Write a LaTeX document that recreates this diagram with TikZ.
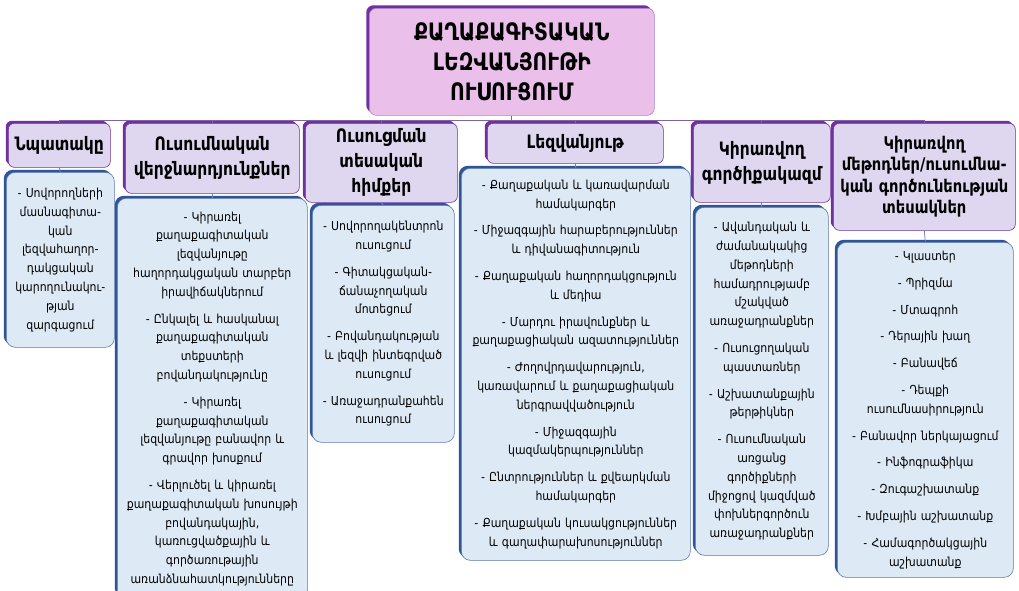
\documentclass[tikz,border=0pt]{standalone}
\usepackage{fontspec}
\setmainfont{DejaVu Sans}[FakeStretch=0.88]
\newfontfamily\headfont{DejaVu Sans}[FakeStretch=0.84]
\usetikzlibrary{shadows}
\definecolor{titlefill}{HTML}{EAC0EA}
\definecolor{hdrfill}{HTML}{DFD7EF}
\definecolor{hdrline}{HTML}{7030A0}
\definecolor{bodyfill}{HTML}{DDEAF6}
\definecolor{bodyline}{HTML}{2F5597}
\definecolor{busline}{HTML}{8064A2}
\tikzset{
    titlebox/.style={draw=hdrline!60, line width=0.6pt, fill=titlefill, rounded corners=7pt, anchor=north west, align=center, inner sep=0pt,
        font=\headfont\fontsize{24}{30}\selectfont\bfseries,
        drop shadow={shadow xshift=-3pt, shadow yshift=3pt, fill=hdrline, opacity=1}},
    hdrbox/.style={draw=hdrline, line width=0.6pt, fill=hdrfill, rounded corners=6pt, anchor=north west, align=center, inner sep=0pt,
        font=\headfont\fontsize{18.5}{25}\selectfont\bfseries,
        drop shadow={shadow xshift=-2.5pt, shadow yshift=2.5pt, fill=hdrline, opacity=1}},
    bodybox/.style={draw=bodyline!80, line width=0.6pt, fill=bodyfill, rounded corners=9pt, anchor=north west, align=center, inner sep=0pt,
        font=\fontsize{12.4}{18.8}\selectfont,
        drop shadow={shadow xshift=-2.5pt, shadow yshift=2.5pt, fill=bodyline, opacity=1}},
    busline/.style={draw=busline, line width=0.8pt},
    linkline/.style={draw=bodyline!70, line width=0.8pt}
}
\begin{document}
\begin{tikzpicture}[x=1pt,y=-1pt]
            \fill[white] (0,0) rectangle (1019,590);
            \useasboundingbox (0,0) rectangle (1019,590);

            \node[titlebox, minimum width=285, minimum height=107, text width=277] (title) at (369,8)
                {ՔԱՂԱՔԱԳԻՏԱԿԱՆ\\ԼԵԶՎԱՆՅՈՒԹԻ\\ՈՒՍՈՒՑՈՒՄ};

            \node[hdrbox, minimum width=102, minimum height=44, text width=98] (h1) at (8,123) {Նպատակը};
            \node[hdrbox, minimum width=174, minimum height=70, text width=170] (h2) at (125,123) {Ուսումնական\\վերջնարդյունքներ};
            \node[hdrbox, minimum width=152, minimum height=79, text width=148] (h3) at (305,123) {Ուսուցման\\տեսական\\հիմքեր};
            \node[hdrbox, minimum width=176, minimum height=40, text width=172] (h4) at (487,123) {Լեզվանյութ};
            \node[hdrbox, minimum width=137, minimum height=79, text width=133] (h5) at (693,123) {Կիրառվող\\գործիքակազմ};
            \node[hdrbox, minimum width=182, minimum height=107, text width=178, font=\headfont\fontsize{17.5}{21.5}\selectfont\bfseries] (h6) at (833,123)
                {Կիրառվող\\մեթոդներ/ուսումնա-\\կան գործունեության\\տեսակներ};

            \node[bodybox, minimum width=108, minimum height=175, text width=104] (b1) at (6,172)
                {- Սովորողների\\մասնագիտա-\\կան\\լեզվահաղոր-\\դակցական\\կարողունակու-\\թյան\\զարգացում};
            \node[bodybox, minimum width=190, minimum height=401, text width=186] (b2) at (117,198)
                {- Կիրառել\\քաղաքագիտական\\լեզվանյութը\\հաղորդակցական տարբեր\\իրավիճակներում\\[8pt]
                 - Ընկալել և հասկանալ\\քաղաքագիտական\\տեքստերի\\բովանդակությունը\\[8pt]
                 - Կիրառել\\քաղաքագիտական\\լեզվանյութը բանավոր և\\գրավոր խոսքում\\[8pt]
                 - Վերլուծել և կիրառել\\քաղաքագիտական խոսույթի\\բովանդակային,\\կառուցվածքային և\\գործառութային\\առանձնահատկությունները};
            \node[bodybox, minimum width=142, minimum height=237, text width=138] (b3) at (312,205)
                {- Սովորողակենտրոն\\ուսուցում\\[8pt]
                 - Գիտակցական-\\ճանաչողական\\մոտեցում\\[8pt]
                 - Բովանդակության\\և լեզվի ինտեգրված\\ուսուցում\\[8pt]
                 - Առաջադրանքահեն\\ուսուցում};
            \node[bodybox, minimum width=229, minimum height=392, text width=225] (b4) at (461,168)
                {- Քաղաքական և կառավարման\\համակարգեր\\[8pt]
                 - Միջազգային հարաբերություններ\\և դիվանագիտություն\\[8pt]
                 - Քաղաքական հաղորդակցություն\\և մեդիա\\[8pt]
                 - Մարդու իրավունքներ և\\քաղաքացիական ազատություններ\\[8pt]
                 - Ժողովրդավարություն,\\կառավարում և քաղաքացիական\\ներգրավվածություն\\[8pt]
                 - Միջազգային\\կազմակերպություններ\\[8pt]
                 - Ընտրություններ և քվեարկման\\համակարգեր\\[8pt]
                 - Քաղաքական կուսակցություններ\\և գաղափարախոսություններ};
            \node[bodybox, minimum width=133, minimum height=348, text width=129] (b5) at (695,207)
                {- Ավանդական և\\ժամանակակից\\մեթոդների\\համադրությամբ\\մշակված\\առաջադրանքներ\\[8pt]
                 - Ուսուցողական\\պաստառներ\\[8pt]
                 - Աշխատանքային\\թերթիկներ\\[8pt]
                 - Ուսումնական\\առցանց\\գործիքների\\միջոցով կազմված\\փոխներգործուն\\առաջադրանքներ};
            \node[bodybox, minimum width=176, minimum height=335, text width=172] (b6) at (837,242)
                {- Կլաստեր\\[8pt]
                 - Պրիզմա\\[8pt]
                 - Մտագրոհ\\[8pt]
                 - Դերային խաղ\\[8pt]
                 - Բանավեճ\\[8pt]
                 - Դեպքի\\ուսումնասիրություն\\[8pt]
                 - Բանավոր ներկայացում\\[8pt]
                 - Ինֆոգրաֆիկա\\[8pt]
                 - Զուգաշխատանք\\[8pt]
                 - Խմբային աշխատանք\\[8pt]
                 - Համագործակցային\\աշխատանք};

            \coordinate (bus) at (title.south |- 0,120);
            \draw[busline] (title.south) -- (bus);
            \foreach \n in {1,...,6}
                \draw[busline] (bus) -| (h\n.north);
            \foreach \n in {1,...,6}
                \draw[linkline] (h\n.south) -- (b\n.north);
\end{tikzpicture}
\end{document}
